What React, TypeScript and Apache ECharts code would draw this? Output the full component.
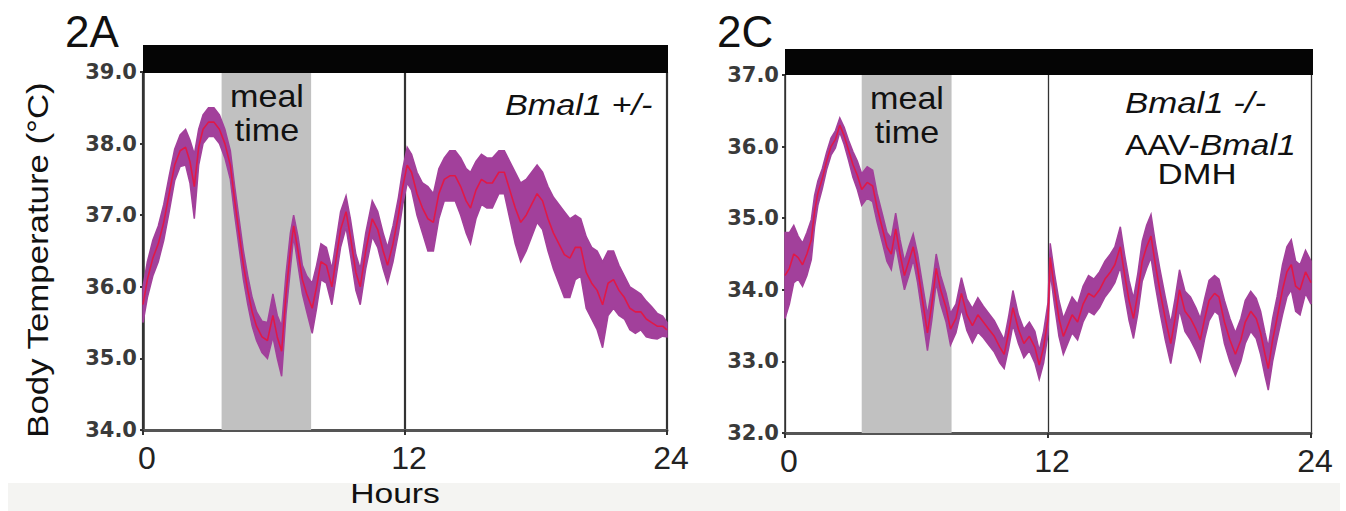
import React, { useEffect, useRef } from "react";
import * as echarts from "echarts";

// ---------- Data ----------
const xTicks = [0, 12, 24];
const yRangeA = [34, 39];
const yRangeC = [32, 37];
const mealA = [3.6, 7.7];
const mealC = [3.5, 7.6];

const hoursA = [0,0.2,0.45,0.7,0.95,1.2,1.45,1.7,1.95,2.15,2.35,2.55,2.75,3.0,3.25,3.5,3.75,4.0,4.2,4.4,4.6,4.8,5.0,5.2,5.45,5.7,5.95,6.15,6.35,6.55,6.75,6.9,7.1,7.3,7.5,7.75,7.95,8.15,8.4,8.65,8.85,9.05,9.3,9.5,9.75,9.95,10.2,10.5,10.75,11.0,11.2,11.45,11.7,11.9,12.1,12.3,12.55,12.8,13.05,13.3,13.55,13.8,14.05,14.3,14.55,14.8,15.0,15.25,15.5,15.75,16.0,16.3,16.55,16.8,17.05,17.3,17.55,17.8,18.05,18.3,18.55,18.8,19.05,19.3,19.55,19.8,20.05,20.3,20.55,20.8,21.05,21.3,21.55,21.8,22.05,22.3,22.55,22.8,23.05,23.3,23.55,23.8,24.0];
const meanA = [35.75,36.1,36.4,36.6,36.9,37.3,37.7,37.9,37.95,37.75,37.4,37.95,38.2,38.3,38.3,38.2,38.0,37.7,37.2,36.75,36.3,35.95,35.65,35.45,35.3,35.25,35.6,35.3,35.1,35.9,36.5,36.85,36.5,36.1,35.9,35.7,36.0,36.35,36.3,36.0,36.4,36.8,37.05,36.7,36.2,36.0,36.5,36.95,36.8,36.5,36.3,36.6,37.0,37.4,37.7,37.6,37.3,37.1,36.95,36.9,37.3,37.5,37.55,37.55,37.4,37.2,37.1,37.35,37.5,37.45,37.45,37.6,37.6,37.35,37.1,36.9,37.0,37.15,37.3,37.2,36.95,36.75,36.6,36.45,36.4,36.55,36.55,36.2,36.05,35.95,35.75,36.05,36.1,35.95,35.85,35.7,35.65,35.65,35.55,35.5,35.45,35.45,35.4];
const errA = [0.25,0.25,0.25,0.25,0.25,0.25,0.22,0.22,0.25,0.3,0.45,0.25,0.2,0.2,0.2,0.2,0.2,0.2,0.2,0.2,0.2,0.2,0.2,0.2,0.22,0.25,0.3,0.3,0.35,0.28,0.25,0.15,0.2,0.2,0.25,0.35,0.3,0.25,0.25,0.25,0.25,0.25,0.22,0.25,0.25,0.25,0.25,0.25,0.25,0.25,0.25,0.25,0.25,0.25,0.25,0.25,0.3,0.35,0.45,0.4,0.35,0.3,0.35,0.35,0.4,0.45,0.5,0.4,0.35,0.35,0.35,0.3,0.3,0.4,0.5,0.55,0.5,0.45,0.4,0.4,0.45,0.5,0.55,0.6,0.55,0.45,0.4,0.5,0.5,0.55,0.6,0.45,0.4,0.35,0.3,0.3,0.3,0.25,0.25,0.22,0.18,0.14,0.1];

const hoursC = [0,0.2,0.4,0.6,0.8,1.0,1.2,1.35,1.5,1.7,1.9,2.1,2.3,2.5,2.7,2.9,3.1,3.3,3.5,3.75,4.0,4.2,4.45,4.65,4.85,5.05,5.25,5.45,5.65,5.85,6.05,6.25,6.5,6.7,6.9,7.1,7.35,7.55,7.8,8.05,8.3,8.55,8.8,9.05,9.3,9.55,9.8,10.0,10.2,10.4,10.65,10.9,11.15,11.4,11.6,11.8,12.0,12.1,12.3,12.5,12.7,12.9,13.1,13.35,13.6,13.85,14.1,14.35,14.6,14.85,15.05,15.3,15.5,15.7,15.9,16.1,16.3,16.5,16.7,16.9,17.1,17.35,17.6,17.8,18.0,18.25,18.5,18.75,18.95,19.15,19.35,19.6,19.8,20.05,20.3,20.55,20.8,21.0,21.25,21.5,21.7,21.9,22.05,22.25,22.45,22.7,22.9,23.1,23.3,23.5,23.75,24.0];
const meanC = [34.2,34.3,34.5,34.45,34.35,34.5,34.7,35.1,35.35,35.55,35.8,36.0,36.1,36.3,36.15,35.95,35.75,35.6,35.4,35.5,35.45,35.15,34.85,34.6,34.5,34.85,34.5,34.2,34.4,34.6,34.3,33.9,33.4,33.8,34.3,34.0,33.75,33.45,33.6,33.95,33.65,33.5,33.65,33.55,33.45,33.35,33.2,33.1,33.4,33.75,33.45,33.25,33.35,33.2,32.95,33.2,33.6,34.45,34.0,33.6,33.35,33.5,33.65,33.55,33.8,33.95,33.9,34.0,34.15,34.25,34.35,34.6,34.2,33.85,33.6,33.95,34.4,34.6,34.75,34.35,34.0,33.6,33.25,33.6,34.0,33.7,33.6,33.45,33.3,33.6,33.85,33.95,33.9,33.55,33.3,33.1,33.3,33.55,33.7,33.6,33.4,33.1,32.9,33.3,33.6,34.0,34.25,34.35,34.05,34.0,34.25,34.1];
const errC = [0.6,0.5,0.4,0.3,0.3,0.3,0.28,0.22,0.17,0.14,0.12,0.12,0.12,0.1,0.12,0.14,0.18,0.2,0.22,0.22,0.22,0.2,0.2,0.2,0.22,0.22,0.2,0.2,0.2,0.18,0.2,0.22,0.25,0.22,0.2,0.2,0.2,0.22,0.2,0.22,0.22,0.24,0.24,0.22,0.22,0.22,0.22,0.2,0.22,0.24,0.2,0.2,0.2,0.22,0.2,0.22,0.22,0.2,0.22,0.25,0.25,0.25,0.25,0.25,0.25,0.25,0.25,0.25,0.25,0.25,0.25,0.28,0.28,0.28,0.28,0.28,0.28,0.3,0.3,0.3,0.3,0.3,0.28,0.28,0.28,0.28,0.3,0.3,0.3,0.28,0.28,0.25,0.25,0.3,0.3,0.3,0.3,0.3,0.28,0.28,0.3,0.3,0.3,0.3,0.3,0.35,0.35,0.35,0.35,0.35,0.3,0.3];

// ---------- Styles ----------
const PURPLE = "#a2409b";
const RED = "#e8143e";
const FONT = "Liberation Sans";

function panelSeries(idx: number, hours: number[], mean: number[], err: number[], meal: number[]) {
  const bandData = hours.map((h, i) => [h, mean[i] - err[i], mean[i] + err[i]]);
  return [
    {
      type: "line",
      xAxisIndex: idx,
      yAxisIndex: idx,
      data: [],
      z: 1,
      silent: true,
      markArea: {
        silent: true,
        itemStyle: { color: "#c1c1c1" },
        data: [[{ xAxis: meal[0] }, { xAxis: meal[1] }]],
      },
    },
    {
      type: "custom",
      xAxisIndex: idx,
      yAxisIndex: idx,
      data: bandData,
      encode: { x: 0, y: [1, 2] },
      z: 2,
      silent: true,
      renderItem: (params: any, api: any) => {
        if (params.dataIndex !== 0) return null;
        const upper = bandData.map((d) => api.coord([d[0], d[2]]));
        const lower = bandData.map((d) => api.coord([d[0], d[1]])).reverse();
        return {
          type: "polygon",
          shape: { points: upper.concat(lower) },
          style: { fill: PURPLE, stroke: PURPLE, lineWidth: 1.5 },
        };
      },
    },
    {
      type: "line",
      xAxisIndex: idx,
      yAxisIndex: idx,
      data: hours.map((h, i) => [h, mean[i]]),
      showSymbol: false,
      z: 3,
      silent: true,
      lineStyle: { color: RED, width: 1.6, opacity: 0.9 },
    },
  ];
}

function xAxisOf(idx: number, splitWidth: number) {
  return {
    gridIndex: idx,
    type: "value",
    min: xTicks[0],
    max: xTicks[xTicks.length - 1],
    interval: xTicks[1] - xTicks[0],
    axisLine: { show: true, onZero: false, lineStyle: { color: "#555", width: 3 } },
    axisTick: { show: true, length: 5, lineStyle: { color: "#333", width: 2 } },
    axisLabel: { fontSize: 32, color: "#222", margin: 12, fontFamily: FONT, padding: [0, 0, 0, 8] },
    splitLine: { show: true, lineStyle: { color: "#333", width: splitWidth } },
  };
}

function yAxisOf(idx: number, range: number[], lineWidth: number) {
  return {
    gridIndex: idx,
    type: "value",
    min: range[0],
    max: range[1],
    interval: 1,
    axisLine: { show: true, onZero: false, lineStyle: { color: "#333", width: lineWidth } },
    axisTick: { show: true, length: 3, lineStyle: { color: "#333", width: 2 } },
    axisLabel: {
      formatter: (v: number) => v.toFixed(1),
      fontSize: 21,
      fontWeight: "bold",
      fontFamily: "DejaVu Sans",
      color: "#3a3a3a",
      margin: 6,
    },
    splitLine: { show: false },
  };
}

function txt(x: number, y: number, text: string, size: number, opts: any = {}) {
  return {
    type: "text",
    x,
    y,
    scaleX: opts.scaleX ?? 1,
    rotation: opts.rotation ?? 0,
    z: 100,
    style: {
      text,
      fontSize: size,
      fontFamily: FONT,
      fontStyle: opts.italic ? "italic" : "normal",
      fill: "#111",
      textAlign: opts.align ?? "left",
      align: opts.align ?? "left",
      textVerticalAlign: "middle",
      verticalAlign: "middle",
      rich: opts.rich,
    },
  };
}

export default function App() {
  const ref = useRef<HTMLDivElement>(null);
  useEffect(() => {
    if (!ref.current) return;
    const chart = echarts.init(ref.current, null, { renderer: "svg" });
    const richAAV = {
      n: { fontSize: 30, fontFamily: FONT, fontStyle: "normal", fill: "#111", color: "#111" },
      i: { fontSize: 30, fontFamily: FONT, fontStyle: "italic", fill: "#111", color: "#111" },
    };
    chart.setOption({
      animation: false,
      backgroundColor: "#ffffff",
      grid: [
        { left: 143, top: 72, width: 524, height: 358 },
        { left: 785, top: 75, width: 526, height: 358 },
      ],
      xAxis: [xAxisOf(0, 2.2), xAxisOf(1, 1.3)],
      yAxis: [yAxisOf(0, yRangeA, 2.5), yAxisOf(1, yRangeC, 1.5)],
      series: [
        ...panelSeries(0, hoursA, meanA, errA, mealA),
        ...panelSeries(1, hoursC, meanC, errC, mealC),
      ],
      graphic: [
        { type: "rect", z: 0, shape: { x: 8, y: 483, width: 1332, height: 28 }, style: { fill: "#f4f4f2" } },
        { type: "rect", z: 50, shape: { x: 143, y: 45, width: 525, height: 28 }, style: { fill: "#050505" } },
        { type: "rect", z: 50, shape: { x: 785, y: 49, width: 528, height: 26 }, style: { fill: "#050505" } },
        txt(65, 31, "2A", 44),
        txt(717, 31, "2C", 44),
        txt(267, 97, "meal", 31, { align: "center", scaleX: 1.1 }),
        txt(267, 131, "time", 31, { align: "center", scaleX: 1.1 }),
        txt(907, 99, "meal", 31, { align: "center", scaleX: 1.1 }),
        txt(907, 133, "time", 31, { align: "center", scaleX: 1.1 }),
        txt(505, 105, "Bmal1 +/-", 29, { italic: true, scaleX: 1.18 }),
        txt(1125, 103, "Bmal1 -/-", 30, { italic: true, scaleX: 1.16 }),
        txt(1125, 145, "{n|AAV-}{i|Bmal1}", 30, { scaleX: 1.13, rich: richAAV }),
        txt(1197, 174, "DMH", 30, { align: "center", scaleX: 1.16 }),
        txt(395, 493, "Hours", 28, { align: "center", scaleX: 1.2 }),
        txt(38, 260, "Body Temperature (°C)", 30, { align: "center", rotation: Math.PI / 2, scaleX: 1.16 }),
      ],
    });
    return () => chart.dispose();
  }, []);
  return (
    <div
      ref={ref}
      style={{ position: "absolute", left: 0, top: 0, width: 1346, height: 511 }}
    />
  );
}
